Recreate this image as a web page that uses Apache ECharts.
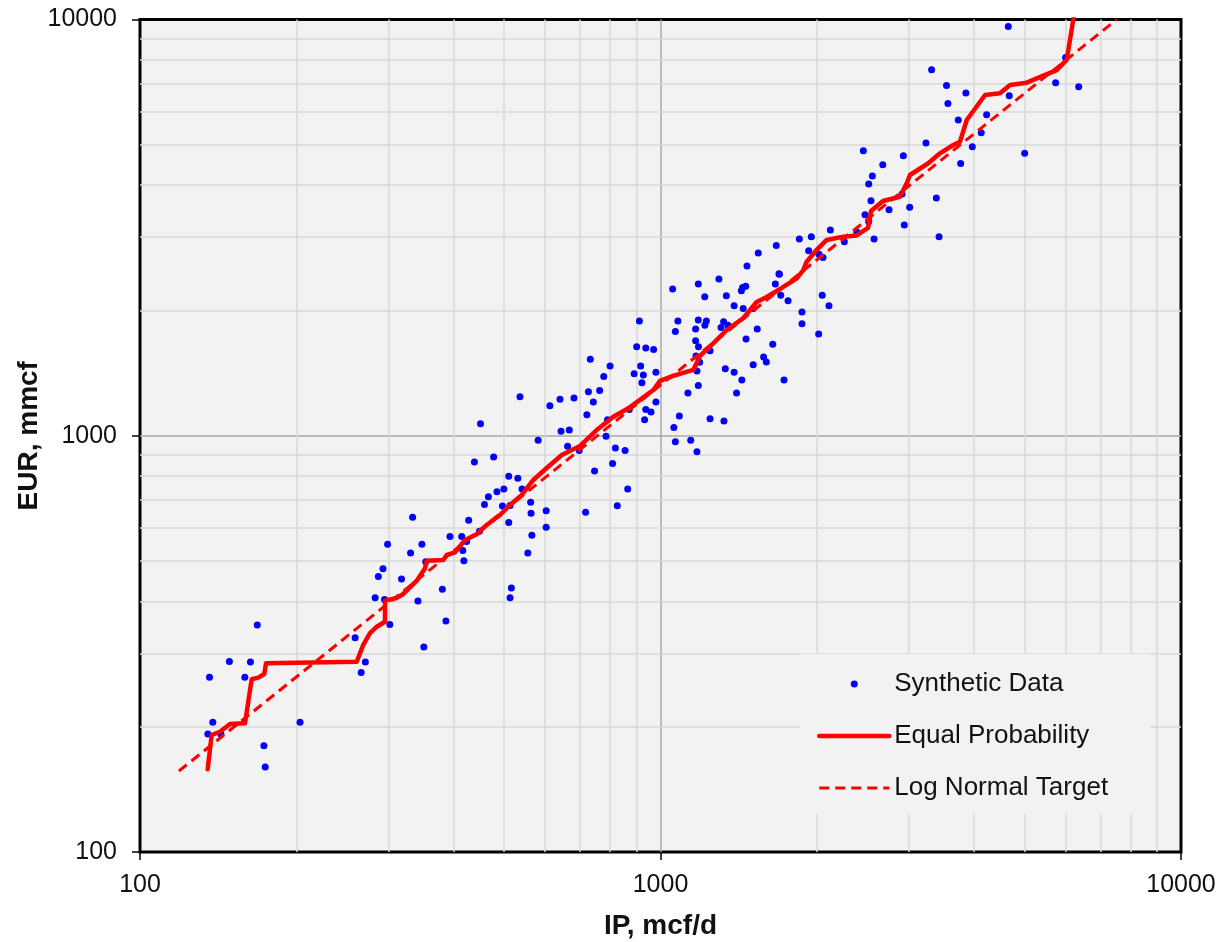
<!DOCTYPE html>
<html>
<head>
<meta charset="utf-8">
<title>EUR vs IP</title>
<script src="https://cdn.jsdelivr.net/npm/echarts@6/dist/echarts.min.js"></script>
<style>
  html, body { margin: 0; padding: 0; background: #ffffff; }
  #chart { width: 1231px; height: 942px; }
</style>
</head>
<body>
<div id="chart"></div>
<script>
// Synthetic well data: initial production (mcf/d) and estimated ultimate recovery (mmcf)
const ipData = [
  168, 148.5, 163, 136, 159, 138, 135, 143, 203, 173, 174, 259, 271, 266, 283, 295, 342, 302, 351,
  537, 613, 641, 682, 451, 644, 668, 582, 663, 698, 439, 478, 511, 532, 542, 467, 485, 500, 459, 497,
  514, 563, 564, 603, 511, 603, 566, 556, 428, 449, 394, 415, 424, 417, 419, 334, 299, 348, 331, 354,
  293, 287, 318, 381, 387, 517, 514,
  1055, 1182, 1295, 1216, 1338, 1438, 1458, 1430, 1662, 1692, 1385, 1442, 1507, 1702, 1758, 911, 1080,
  1068, 1182, 1225, 1168, 1322, 1307, 1348, 1534, 1460, 1643, 1168, 1183, 1245, 1170, 1189, 1175, 1182,
  1332, 1385, 1433, 1507, 1578, 1597, 1727, 1400, 1129, 1087, 1245, 1324, 1061, 1068, 1143, 1175, 900,
  937, 970, 733, 800, 778, 916, 890, 927, 980, 921, 727, 764, 743, 722, 871, 937, 959, 980, 932, 791,
  786, 819, 855, 809, 747, 865, 718, 826,
  2512, 2537, 2471, 2512, 2572, 2748, 2911, 3011, 2940, 3388, 3429, 2120, 1949, 1848, 2255, 2382, 1926,
  2016, 2052, 1669, 1541, 1466, 1689, 2045, 2107, 1870, 1870, 2013, 1217,
  4658, 6003, 5743, 6360, 3318, 3544, 3861, 4678, 3566, 3733, 4232, 4132, 3972, 5008, 3773, 3236, 2928,
  2453, 2673, 2553
];
const eurData = [
  351, 287, 286, 263, 263, 205, 192, 192, 205, 180, 160, 327, 286, 270, 408, 404, 401, 352, 311,
  1241, 1181, 1223, 1232, 1069, 1025, 1032, 976, 943, 922, 865, 889, 799, 790, 745, 714, 734, 745, 684, 678,
  680, 692, 651, 660, 619, 603, 577, 523, 627, 590, 573, 573, 557, 530, 501, 637, 549, 549, 523, 498,
  479, 459, 453, 428, 359, 431, 408,
  2251, 2314, 2379, 2158, 2169, 2272, 2288, 2230, 2314, 2445, 2053, 2023, 2023, 2174, 2110, 1886, 1886,
  1781, 1897, 1886, 1804, 1879, 1821, 1842, 1804, 1708, 1658, 1691, 1636, 1600, 1554, 1501, 1430, 1321,
  1449, 1420, 1361, 1481, 1546, 1503, 1361, 1266, 1266, 1115, 1099, 1085, 1047, 967, 975, 915, 1636,
  1624, 1612, 1526, 1470, 1388, 1470, 1409, 1399, 1420, 1341, 1275, 1285, 1205, 1123, 1157, 1157, 1140, 1206, 1092, 1092,
  997, 934, 922, 858, 823, 745, 655, 679,
  4023, 3668, 3395, 3273, 2968, 3490, 3807, 3542, 3208, 3724, 3006, 3120, 3006, 2968, 2924, 3090, 2782,
  2731, 2681, 2866, 2747, 2556, 2449, 2174, 2053, 1982, 1858, 1755, 1843,
  9625, 8109, 7047, 6893, 7573, 6942, 6657, 6557, 6285, 5733, 5903, 5344, 4945, 4775, 4510, 5047, 4704,
  4836, 4477, 4206
];

// Equal-probability curve (matched quantiles of IP and EUR)
const eqProbIP = [
  134.9, 137.3, 142.4, 148.9, 159.1, 163.9, 168.8, 173.3, 174.6, 260.9, 268.5, 276.6, 285, 295.6, 295.6,
  311.3, 320.5, 340.2, 352.9, 355.5, 382.6, 388.4, 402.9, 421.1, 443.5, 463.5, 491.7, 513.8, 541.3, 569.7,
  604.5, 646, 700.4, 754.1, 811.8, 867.3, 913.1, 968.7, 997.8, 1058, 1156, 1191, 1263, 1340, 1443, 1530,
  1600, 1710, 1827, 1881, 1909, 1995, 2086, 2245, 2382, 2504, 2538, 2676, 2885, 2972, 3015, 3270, 3443,
  3652, 3762, 3876, 4203, 4490, 4694, 5053, 5769, 6031, 6210, 6260
];
const eqProbEUR = [
  158, 191, 194.5, 203, 203.8, 260, 262.3, 267.7, 284, 286.6, 314.4, 335.4, 347.7, 357.4, 401.6,
  407.7, 416.8, 448.6, 480.5, 501, 503, 517, 524.8, 561.7, 579.6, 610.6, 645.2, 681.9, 720.6, 783.1,
  836.8, 899, 945, 1032, 1111, 1164, 1219, 1288, 1354, 1392, 1439, 1555, 1668, 1795, 1918, 2096,
  2154, 2265, 2389, 2501, 2619, 2795, 2954, 3008, 3028, 3156, 3467, 3664, 3752, 4042, 4231, 4515, 4770,
  4995, 5087, 5735, 6586, 6648, 6961, 7050, 7560, 7995, 10000, 11000
];

// Log-normal target trend (straight line in log-log space)
const targetIP = [118.8, 7524];
const targetEUR = [156.5, 10000];

// Intermediate grid values between the decades
const minorGrid = [200, 300, 400, 500, 600, 700, 800, 900, 2000, 3000, 4000, 5000, 6000, 7000, 8000, 9000];

const FONT = '"Liberation Sans", Arial, Helvetica, sans-serif';
const zip = (a, b) => a.map((v, i) => [v, b[i]]);
const tickFmt = v => String(Math.round(v));

const chart = echarts.init(document.getElementById('chart'), null, { renderer: 'canvas' });

const axisCommon = {
  type: 'log',
  logBase: 10,
  min: 100,
  max: 10000,
  axisLine: { show: false },
  axisTick: { show: true, inside: false, length: 8, lineStyle: { color: '#000', width: 1.5 } },
  splitLine: { show: true, showMinLine: false, showMaxLine: false, lineStyle: { color: '#a8a8a8', width: 1.5 } },
  nameLocation: 'middle',
  nameMoveOverlap: false,
  nameTextStyle: { fontFamily: FONT, fontWeight: 'bold', fontSize: 28, lineHeight: 28, color: '#111' }
};

// Legend entries for the two curves show only their line sample
const hiddenMarker = { opacity: 0 };

chart.setOption({
  animation: false,
  backgroundColor: '#ffffff',
  grid: {
    left: 140, top: 19.5, right: 50, bottom: 90,
    outerBoundsMode: 'none',
    containLabel: false,
    show: true,
    backgroundColor: '#f2f2f2',
    borderColor: '#000000',
    borderWidth: 3
  },
  xAxis: Object.assign({}, axisCommon, {
    name: 'IP, mcf/d',
    nameGap: 60,
    axisLabel: { formatter: tickFmt, fontFamily: FONT, fontSize: 25, lineHeight: 25, color: '#111', margin: 21 }
  }),
  yAxis: Object.assign({}, axisCommon, {
    name: 'EUR, mmcf',
    nameGap: 97,
    axisLabel: { formatter: tickFmt, fontFamily: FONT, fontSize: 25, lineHeight: 25, color: '#111', margin: 23 }
  }),
  legend: {
    orient: 'vertical',
    left: 800,
    top: 654,
    padding: [17, 42, 13, 17],
    backgroundColor: '#f2f2f2',
    itemWidth: 70,
    itemHeight: 7,
    itemGap: 26,
    selectedMode: false,
    lineStyle: { width: 'inherit' },
    textStyle: { fontFamily: FONT, fontSize: 26, lineHeight: 26, color: '#111' },
    data: [
      { name: 'Synthetic Data' },
      { name: 'Equal Probability', itemStyle: hiddenMarker },
      { name: 'Log Normal Target', itemStyle: hiddenMarker }
    ]
  },
  series: [
    {
      name: 'Synthetic Data',
      type: 'scatter',
      symbol: 'circle',
      symbolSize: 7,
      itemStyle: { color: '#0000ff', opacity: 1 },
      data: zip(ipData, eurData),
      z: 3
    },
    {
      name: 'Equal Probability',
      type: 'line',
      symbol: 'none',
      lineStyle: { color: '#ff0000', width: 4.5, join: 'round', cap: 'round' },
      itemStyle: { color: '#ff0000' },
      data: zip(eqProbIP, eqProbEUR),
      clip: true,
      z: 4
    },
    {
      name: 'Log Normal Target',
      type: 'line',
      symbol: 'none',
      lineStyle: { color: '#ff0000', width: 3, type: [10, 6] },
      itemStyle: { color: '#ff0000' },
      data: zip(targetIP, targetEUR),
      clip: true,
      z: 4,
      markLine: {
        z: 1,
        silent: true,
        symbol: ['none', 'none'],
        label: { show: false },
        lineStyle: { color: '#d9d9d9', width: 1.5, type: 'solid' },
        emphasis: { disabled: true },
        data: minorGrid.map(v => ({ xAxis: v })).concat(minorGrid.map(v => ({ yAxis: v })))
      }
    }
  ]
});
</script>
</body>
</html>
